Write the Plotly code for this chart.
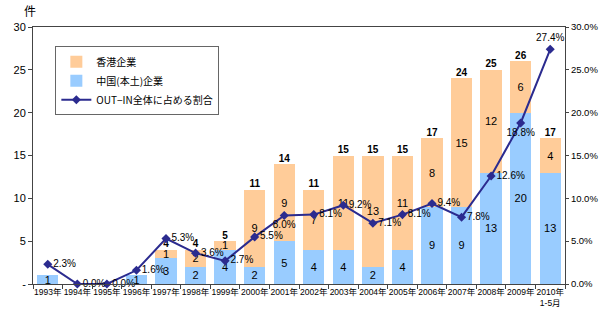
import plotly.graph_objects as go

years = ["1993年", "1994年", "1995年", "1996年", "1997年", "1998年", "1999年", "2000年",
         "2001年", "2002年", "2003年", "2004年", "2005年", "2006年", "2007年", "2008年",
         "2009年", "2010年<br>1-5月"]
china = [1, 0, 0, 1, 3, 2, 4, 2, 5, 4, 4, 2, 4, 9, 9, 13, 20, 13]
hongkong = [0, 0, 0, 0, 1, 2, 1, 9, 9, 7, 11, 13, 11, 8, 15, 12, 6, 4]
share = [2.3, 0.0, 0.0, 1.6, 5.3, 3.6, 2.7, 5.5, 8.0, 8.1, 9.2, 7.1, 8.1, 9.4, 7.8, 12.6, 18.8, 27.4]
left_ticks = [0, 5, 10, 15, 20, 25, 30]
left_labels = ["-", "5", "10", "15", "20", "25", "30"]
right_labels = ["0.0%", "5.0%", "10.0%", "15.0%", "20.0%", "25.0%", "30.0%"]

share_pos = ["middle right"] * len(share)
share_pos[8] = "bottom center"
share_pos[16] = "bottom center"
share_pos[17] = "top center"

totals = [c + h for c, h in zip(china, hongkong)]
total_text = [str(t) if h > 0 else "" for t, h in zip(totals, hongkong)]

FONT = "Liberation Sans, Arial, Noto Sans CJK JP, sans-serif"
CJK = "Noto Sans CJK JP, sans-serif"

fig = go.Figure()
fig.add_trace(go.Bar(
    x=years, y=china, name="中国(本土)企業", marker_color="#99CCFF",
    text=[str(v) if v > 0 else "" for v in china], textposition="inside",
    insidetextanchor="middle", textangle=0, constraintext="none",
    textfont=dict(color="black", size=11, family=FONT), legendrank=2))
fig.add_trace(go.Bar(
    x=years, y=hongkong, name="香港企業", marker_color="#FFCC99",
    text=[str(v) if v > 0 else "" for v in hongkong], textposition="inside",
    insidetextanchor="middle", textangle=0, constraintext="none",
    textfont=dict(color="black", size=11, family=FONT), legendrank=1))
fig.add_trace(go.Scatter(
    x=years, y=totals, mode="text", text=total_text, textposition="top center",
    textfont=dict(color="black", size=10, family=FONT, weight="bold"),
    showlegend=False, hoverinfo="skip"))
fig.add_trace(go.Scatter(
    x=years, y=share, yaxis="y2", name="OUT−IN全体に占める割合",
    mode="lines+markers+text", line=dict(color="#2B2B8F", width=2),
    marker=dict(symbol="diamond", size=7, color="#2B2B8F"),
    text=[f"{v:.1f}%" for v in share], textposition=share_pos,
    textfont=dict(color="black", size=10, family=FONT),
    cliponaxis=False, legendrank=3))

fig.update_layout(
    template="none",
    width=600, height=324,
    margin=dict(l=33, r=35, t=27, b=40, autoexpand=False),
    barmode="stack", bargap=0.28,
    uniformtext=dict(minsize=11, mode="show"),
    paper_bgcolor="white", plot_bgcolor="white",
    font=dict(family=FONT, size=11, color="black"),
    xaxis=dict(range=[-0.5, 17.5], automargin=False,
               showline=True, linecolor="#444", mirror=True, ticks="outside",
               tickson="boundaries", ticklen=4, tickcolor="#444", showgrid=False,
               tickfont=dict(size=8.5, family=FONT), tickangle=0),
    yaxis=dict(range=[0, 30], tickvals=left_ticks, ticktext=left_labels,
               automargin=False,
               showline=True, linecolor="#444", mirror=True, ticks="outside",
               ticklen=4, tickcolor="#444", showgrid=False, zeroline=False,
               tickfont=dict(size=11, family=FONT)),
    yaxis2=dict(range=[0, 30], overlaying="y", side="right", automargin=False,
                tickvals=left_ticks, ticktext=right_labels,
                showline=True, linecolor="#444", ticks="outside", ticklen=3,
                tickcolor="#444", showgrid=False, zeroline=False,
                tickfont=dict(size=9.5, family=FONT)),
    legend=dict(x=0.042, y=0.925, xanchor="left", yanchor="top",
                traceorder="normal",
                bgcolor="white", bordercolor="#666", borderwidth=1,
                font=dict(size=10, family=CJK), tracegroupgap=2,
                itemwidth=30),
    annotations=[dict(text="件", xref="paper", yref="paper", x=-0.005, y=1.0,
                      xanchor="center", yanchor="bottom", yshift=6, showarrow=False,
                      font=dict(size=12, family=CJK))],
)

fig.write_html("out.html")
